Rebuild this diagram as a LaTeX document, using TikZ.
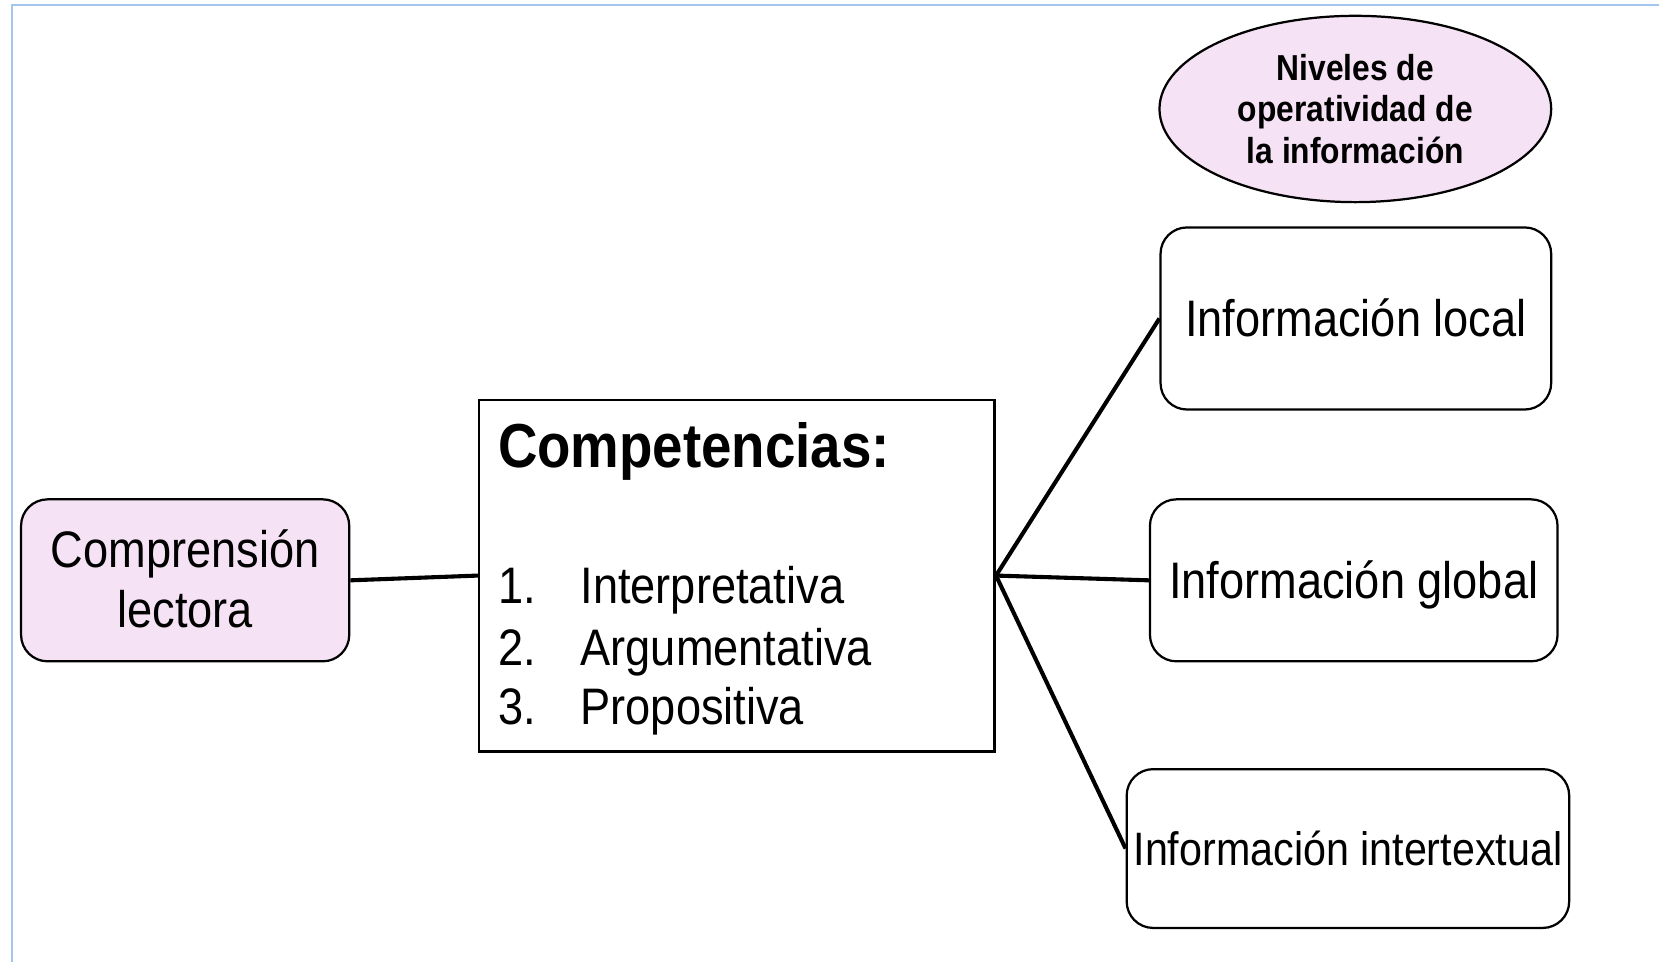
\documentclass[tikz,border=0pt]{standalone}
\usepackage{fontspec}
\setmainfont{Liberation Sans}[FakeStretch=0.88]
\usepackage{xcolor}
\usepackage{tikz}
\usetikzlibrary{shapes.geometric}

\definecolor{nivelPink}{RGB}{245,226,244}
\definecolor{frameBlue}{RGB}{164,198,236}

\tikzset{
  roundbox/.style={draw, rounded corners=0.25cm, line width=0.6pt, inner sep=0pt,
    font=\fontsize{13.8}{16.2}\selectfont},
  onebox/.style={roundbox, text height=9.9pt, text depth=0pt},
  link/.style={line width=1.1pt},
}

\begin{document}
\begin{tikzpicture}[x=0.01cm, y=-0.01cm]
    \useasboundingbox (0,0) rectangle (1568,909);

    % Frame
    \draw[frameBlue, line width=0.6pt] (1568,5) -- (11,5) -- (11,909);

    % Comprension lectora
    \node[roundbox, fill=nivelPink, align=center, text depth=1pt,
      minimum width=3.1cm, minimum height=1.53cm] (compLectora) at (175,548.5)
      {Comprensión\\lectora};

    % Competencias
    \node[draw, line width=0.7pt, minimum width=4.87cm, minimum height=3.32cm,
      inner sep=0pt] (competBox) at (696.5,544) {};
    \node[anchor=base west, inner sep=0pt, font=\fontsize{16.7}{20}\selectfont\bfseries]
      (competTitle) at (470,441.5) {Competencias:};
    \node[anchor=base west, inner sep=0pt, font=\fontsize{13.8}{16.2}\selectfont]
      (competOne) at (470,570) {\makebox[0.78cm][l]{1.}Interpretativa};
    \node[anchor=base west, inner sep=0pt, font=\fontsize{13.8}{16.2}\selectfont]
      (competTwo) at (470,629) {\makebox[0.78cm][l]{2.}Argumentativa};
    \node[anchor=base west, inner sep=0pt, font=\fontsize{13.8}{16.2}\selectfont]
      (competThree) at (470,685) {\makebox[0.78cm][l]{3.}Propositiva};

    % Niveles
    \node[ellipse, draw, fill=nivelPink, line width=0.6pt, inner sep=0pt,
      minimum width=3.7cm, minimum height=1.76cm, align=center,
      font=\fontsize{9.7}{11.1}\selectfont\bfseries] (nivelesHead) at (1281,103)
      {Niveles de\\operatividad de\\la información};

    \node[onebox, minimum width=3.69cm, minimum height=1.72cm] (lvlLocal) at (1281.5,301)
      {Información local};
    \node[onebox, minimum width=3.85cm, minimum height=1.53cm] (lvlGlobal) at (1279.5,548.5)
      {Información global};
    \node[onebox, minimum width=4.18cm, minimum height=1.5cm, text height=9pt,
      font=\fontsize{12.6}{15}\selectfont] (lvlInter) at (1274,802)
      {Información intertextual};

    % Links
    \draw[link] (compLectora.east) -- (competBox.west);
    \draw[link] (competBox.east) -- (lvlLocal.west);
    \draw[link] (competBox.east) -- (lvlGlobal.west);
    \draw[link] (competBox.east) -- (lvlInter.west);
\end{tikzpicture}
\end{document}
